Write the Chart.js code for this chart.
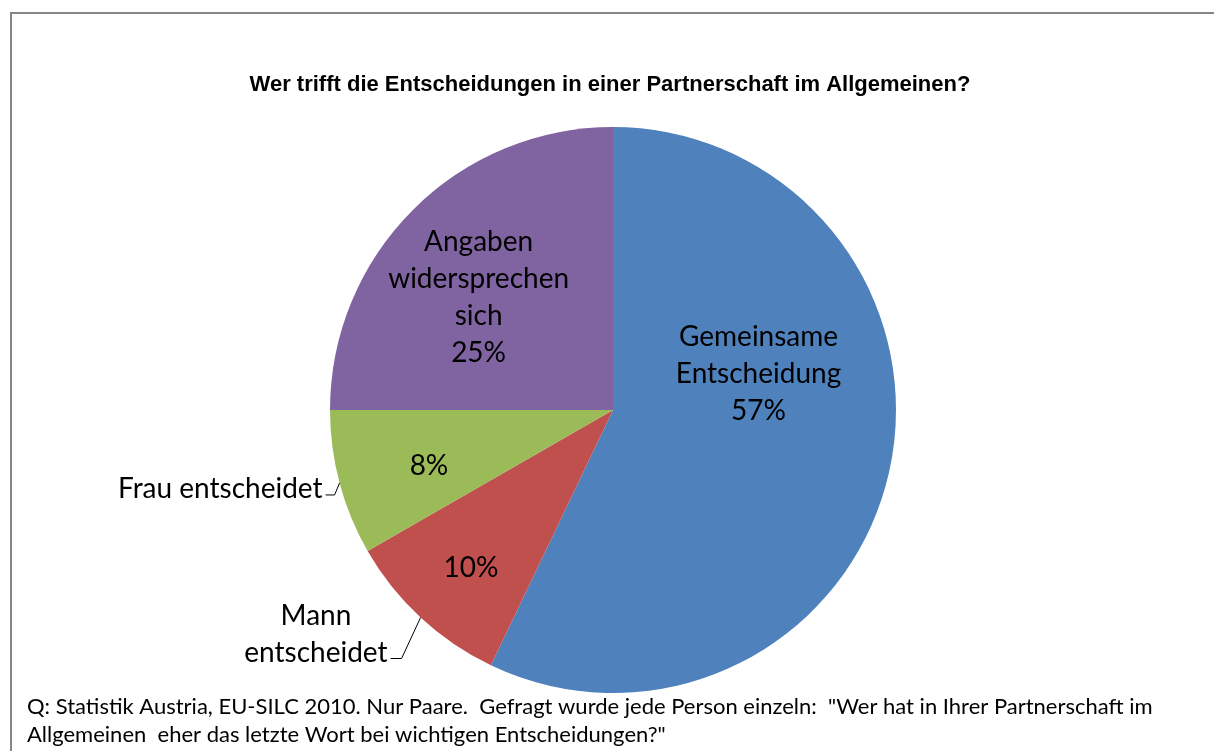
<!DOCTYPE html>
<html><head><meta charset="utf-8">
<script src="https://cdn.jsdelivr.net/npm/chart.js@4.4.0/dist/chart.umd.min.js"></script>
<style>html,body{margin:0;padding:0;background:#fff;}#wrap{width:1214px;height:751px;position:relative;}</style>
</head><body><div id="wrap"><canvas id="c" width="1214" height="751"></canvas></div>
<script>
const categories = ["Gemeinsame Entscheidung", "Mann entscheidet", "Frau entscheidet", "Angaben widersprechen sich"];
const values = [57.1, 9.6, 8.3, 25.0];
const colors = ["#4F81BD", "#C0504D", "#9BBB59", "#8064A2"];
const titleText = "Wer trifft die Entscheidungen in einer Partnerschaft im Allgemeinen?";
const footerLines = [
  "Q: Statistik Austria, EU-SILC 2010. Nur Paare.  Gefragt wurde jede Person einzeln:  \"Wer hat in Ihrer Partnerschaft im",
  "Allgemeinen  eher das letzte Wort bei wichtigen Entscheidungen?\""
];

const LABEL_FONT = '28px Lato, "Open Sans", sans-serif';
const labelCfg = [
  {type:'in', lines:["Gemeinsame","Entscheidung"], ang:76, rf:0.53},
  {type:'out', lines:["Mann","entscheidet"], bend:[-19,41], end:[-30,41]},
  {type:'out1', lines:["Frau entscheidet"], bend:[-5,12], end:[-14,12]},
  {type:'in', lines:["Angaben","widersprechen","sich"], ang:310, rf:0.62},
];
const pctCfg = [null, {ang:222, rf:0.75}, {ang:253, rf:0.68}, null];

const plugin = {
  id:'deco',
  beforeDraw(chart){
    const ctx = chart.ctx;
    ctx.save();
    ctx.fillStyle='#fff'; ctx.fillRect(0,0,chart.width,chart.height);
    ctx.strokeStyle='#868686'; ctx.lineWidth=2;
    ctx.strokeRect(11,13,1300,900);
    ctx.fillStyle='#000';
    ctx.font='bold 22px "Liberation Sans", Arial, sans-serif';
    ctx.textAlign='center'; ctx.textBaseline='middle';
    ctx.fillText(titleText, 610, 85);
    ctx.font='22px Lato, "Open Sans", sans-serif';
    ctx.textAlign='left';
    ctx.fillText(footerLines[0], 27, 707);
    ctx.fillText(footerLines[1], 27, 735);
    ctx.restore();
  },
  afterDatasetsDraw(chart){
    const ctx = chart.ctx;
    const meta = chart.getDatasetMeta(0);
    const data = chart.data.datasets[0].data;
    const total = data.reduce((a,b)=>a+b,0);
    ctx.save();
    ctx.fillStyle='#000'; ctx.font=LABEL_FONT;
    ctx.textAlign='center'; ctx.textBaseline='middle';
    const lh = 37;
    meta.data.forEach((arc,i)=>{
      const cfg = labelCfg[i];
      const pct = Math.round(data[i]/total*100)+'%';
      const cx = arc.x, cy = arc.y, R = arc.outerRadius;
      const polar = (deg, rf)=>{const a=deg*Math.PI/180; return [cx+R*rf*Math.sin(a), cy-R*rf*Math.cos(a)];};
      if(cfg.type==='in'){
        const lines = cfg.lines.concat([pct]);
        const [px,py] = polar(cfg.ang, cfg.rf);
        const y0 = py - (lines.length-1)*lh/2;
        lines.forEach((t,k)=>ctx.fillText(t, px, y0+k*lh));
      } else {
        const p = pctCfg[i];
        const [qx,qy] = polar(p.ang,p.rf);
        ctx.fillText(pct, qx, qy);
        const mid = (arc.startAngle+arc.endAngle)/2;
        const ex = cx + R*Math.cos(mid), ey = cy + R*Math.sin(mid);
        ctx.strokeStyle='#000'; ctx.lineWidth=1;
        ctx.beginPath(); ctx.moveTo(ex,ey);
        ctx.lineTo(ex+cfg.bend[0], ey+cfg.bend[1]);
        ctx.lineTo(ex+cfg.end[0], ey+cfg.end[1]);
        ctx.stroke();
        const tx = ex+cfg.end[0]-3, ty = ey+cfg.end[1];
        if(cfg.type==='out1'){
          ctx.textAlign='right';
          ctx.fillText(cfg.lines[0], tx, ty-6);
          ctx.textAlign='center';
        } else {
          const w = ctx.measureText(cfg.lines[1]).width;
          const mx = tx - w/2;
          ctx.fillText(cfg.lines[1], mx, ty-6);
          ctx.fillText(cfg.lines[0], mx, ty-6-lh);
        }
      }
    });
    ctx.restore();
  }
};

new Chart(document.getElementById('c'), {
  type:'pie',
  data:{labels:categories, datasets:[{data:values, backgroundColor:colors, borderWidth:0}]},
  options:{
    responsive:false, animation:false,
    layout:{padding:{left:330, right:318, top:127, bottom:58}},
    plugins:{legend:{display:false}, tooltip:{enabled:false}}
  },
  plugins:[plugin]
});
</script></body></html>
